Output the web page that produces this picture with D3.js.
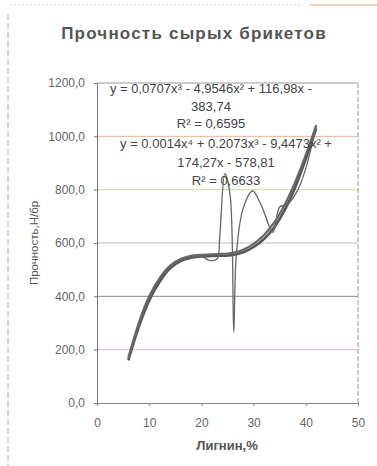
<!DOCTYPE html>
<html>
<head>
<meta charset="utf-8">
<script src="https://cdn.jsdelivr.net/npm/d3@7"></script>
<style>
  body { margin: 0; background: #fff; }
  text { font-family: "Liberation Sans", Arial, sans-serif; }
</style>
</head>
<body>
<div id="chart"></div>
<script>
// Data
const xTicks = [0, 10, 20, 30, 40, 50];
const yTicks = [0, 200, 400, 600, 800, 1000, 1200];

// measured points (thin line)
const ligninX = [6, 8, 10, 12, 14, 16, 18, 20, 21.5, 23, 23.5, 24.5, 25.5, 26.2, 26.7, 28, 29.8, 31.5, 33.7, 35, 36.5, 38.5, 40, 42];
const strength = [165, 290, 395, 465, 510, 535, 548, 550, 535, 540, 620, 860, 780, 265, 560, 730, 795, 740, 640, 735, 745, 800, 880, 1040];

// trend lines (thick)
const trendX = [6, 8, 10, 12, 14, 16, 18, 20, 22, 24, 26, 28, 30, 32, 34, 36, 38, 40, 42];
const trend3 = [160, 285, 385, 455, 505, 532, 545, 550, 551, 552, 555, 565, 585, 615, 660, 725, 810, 915, 1030];
const trend4 = [170, 300, 400, 468, 515, 540, 552, 556, 557, 559, 563, 575, 597, 630, 678, 745, 830, 930, 1042];

const eqLines1 = ["y = 0,0707x³ - 4,9546x² + 116,98x -", "383,74", "R² = 0,6595"];
const eqLines2 = ["y =  0.0014x⁴ + 0.2073x³ - 9,4473x² +", "174,27x - 578,81", "R² = 0,6633"];

const W = 377, H = 466;
const margin = {left: 97, right: 19, top: 83, bottom: 63};
const width = W - margin.left - margin.right;
const height = H - margin.top - margin.bottom;

const svg = d3.select("#chart").append("svg")
    .attr("width", W)
    .attr("height", H);

// scan frame
svg.append("line")
    .attr("x1", 8).attr("x2", 8).attr("y1", 14).attr("y2", H)
    .style("stroke", "#aaa").style("stroke-dasharray", "6,3");
svg.append("line")
    .attr("x1", 10).attr("x2", 300).attr("y1", 5).attr("y2", 5)
    .style("stroke", "#ccc").style("stroke-dasharray", "2,2");
svg.append("line")
    .attr("x1", 310).attr("x2", W).attr("y1", 5).attr("y2", 5)
    .style("stroke", "#d8a080");

const g = svg.append("g")
    .attr("transform", "translate(" + margin.left + "," + margin.top + ")");

const x = d3.scaleLinear().domain([0, 50]).range([0, width]);
const y = d3.scaleLinear().domain([0, 1200]).range([height, 0]);

// Title
svg.append("text")
    .attr("x", 194)
    .attr("y", 39)
    .style("text-anchor", "middle")
    .style("font-weight", 700)
    .style("font-size", "17px")
    .style("letter-spacing", "1.2px")
    .style("fill", "#555")
    .text("Прочность сырых брикетов");

// Gridlines
const gridColors = {200: "#e2b8b8", 400: "#8a8a8a", 600: "#c4bcbc", 800: "#c8dba0", 1000: "#e6b494", 1200: "#999"};
g.selectAll(".grid")
    .data(yTicks.filter(d => d > 0)).enter().append("line")
    .attr("class", "grid")
    .attr("x1", 0).attr("x2", width)
    .attr("y1", d => y(d)).attr("y2", d => y(d))
    .style("stroke", d => gridColors[d])
    .style("stroke-width", 1);

// right border
g.append("line")
    .attr("x1", width).attr("x2", width).attr("y1", 0).attr("y2", height)
    .style("stroke", "#999").style("stroke-dasharray", "5,2");

// Axes
const yAxis = d3.axisLeft(y).tickValues(yTicks).tickSize(3)
    .tickFormat(d => d3.format(".1f")(d).replace(".", ","));
const gy = g.append("g").attr("class", "y axis").call(yAxis);
gy.select(".domain").style("stroke", "#777");
gy.selectAll(".tick line").style("stroke", "#777");
gy.selectAll("text").style("font-size", "12px").style("fill", "#666")
    .attr("x", -12);

const xAxis = d3.axisBottom(x).tickValues(xTicks).tickSize(3);
const gx = g.append("g").attr("class", "x axis")
    .attr("transform", "translate(0," + height + ")")
    .call(xAxis);
gx.select(".domain").style("stroke", "#888");
gx.selectAll(".tick line").style("stroke", "#888");
gx.selectAll("text").style("font-size", "12px").style("fill", "#666")
    .attr("y", 15);

// Axis labels
svg.append("text")
    .attr("transform", "rotate(-90)")
    .attr("x", -243)
    .attr("y", 38)
    .style("text-anchor", "middle")
    .style("font-size", "11.5px")
    .style("fill", "#555")
    .text("Прочность,Н/бр");

svg.append("text")
    .attr("x", 227)
    .attr("y", 450)
    .style("text-anchor", "middle")
    .style("font-size", "13px")
    .style("font-weight", 700)
    .style("fill", "#555")
    .text("Лигнин,%");

// Lines
const line = d3.line()
    .x(d => x(d[0]))
    .y(d => y(d[1]))
    .curve(d3.curveCatmullRom.alpha(0.5));

g.append("path")
    .datum(d3.zip(trendX, trend3))
    .attr("d", line)
    .style("fill", "none").style("stroke", "#555").style("stroke-width", 2.6);
g.append("path")
    .datum(d3.zip(trendX, trend4))
    .attr("d", line)
    .style("fill", "none").style("stroke", "#666").style("stroke-width", 2.2);
g.append("path")
    .datum(d3.zip(ligninX, strength))
    .attr("d", line)
    .style("fill", "none").style("stroke", "#666").style("stroke-width", 1.3);

// Equation labels
const eq = svg.append("g").style("font-size", "13px").style("fill", "#444");
eq.selectAll(".eq1").data(eqLines1).enter().append("text")
    .attr("class", "eq1")
    .attr("x", 211)
    .attr("y", (d, i) => 93 + i * 17.5)
    .style("text-anchor", "middle")
    .text(d => d);
eq.selectAll(".eq2").data(eqLines2).enter().append("text")
    .attr("class", "eq2")
    .attr("x", 226)
    .attr("y", (d, i) => 148 + i * 18.5)
    .style("text-anchor", "middle")
    .text(d => d);
</script>
</body>
</html>
